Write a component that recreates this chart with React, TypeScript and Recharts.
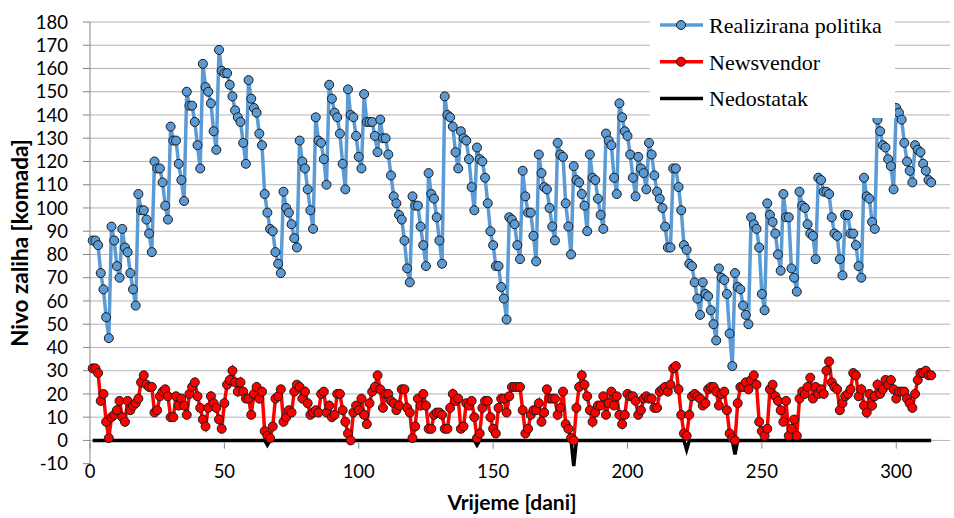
import { LineChart, Line, XAxis, YAxis, CartesianGrid, Legend } from 'recharts';

// dnevna razina zaliha (dan 1..313)
const realizirana = [
  86, 86, 84, 72, 65, 53, 44, 92, 86, 75, 70, 91, 83, 81, 72, 65, 58, 106, 99, 99,
  95, 89, 81, 120, 117, 117, 111, 101, 95, 135, 129, 129, 119, 112, 103, 150, 144, 144, 137,
  127, 117, 162, 152, 150, 145, 133, 125, 168, 159, 158, 158, 153, 148, 142, 139, 137, 128, 119,
  155, 147, 143, 141, 132, 127, 106, 98, 91, 90, 81, 76, 72, 107, 100, 98, 93, 87, 83,
  129, 120, 117, 108, 99, 91, 139, 129, 128, 121, 110, 153, 147, 141, 139, 132, 119, 108, 151, 140,
  139, 131, 122, 117, 149, 137, 137, 137, 131, 124, 138, 130, 130, 123, 114, 105, 102, 97, 95, 86,
  74, 68, 105, 101, 101, 92, 84, 75, 115, 106, 104, 96, 86, 76, 148, 140, 139, 135, 124, 117,
  133, 130, 129, 121, 109, 99, 126, 121, 120, 113, 102, 90, 84, 75, 75, 66, 61, 52,
  96, 95, 93, 84, 78, 116, 105, 98, 98, 88, 77, 123, 115, 109, 108, 100, 92, 86, 128, 123,
  122, 102, 92, 80, 118, 112, 111, 106, 101, 90, 123, 113, 112, 104, 97, 91, 132, 129, 127, 113,
  106, 145, 139, 133, 131, 123, 113, 105, 122, 117, 115, 108, 128, 123, 114, 107, 104, 100, 92, 83,
  83, 117, 117, 109, 99, 84, 82, 76, 75, 68, 61, 54, 68, 63, 62, 56, 50, 43,
  74, 70, 69, 63, 46, 32, 72, 66, 65, 58, 54, 50, 96, 93, 91, 83, 63, 56, 102, 97,
  94, 89, 80, 73, 106, 96, 96, 74, 70, 64, 107, 101, 100, 93, 89, 88, 78, 113, 112,
  107, 107, 106, 96, 89, 88, 78, 71, 97, 97, 89, 89, 84, 75, 70, 113, 105, 104, 94, 91,
  138, 133, 127, 126, 121, 118, 108, 143, 141, 138, 128, 120, 116, 111, 127, 125, 124, 119, 116, 112, 111
];

const newsvendor = [
  31, 31, 29, 17, 20, 8, 1, 10, 11, 13, 17, 10, 8, 17, 13, 15, 16, 18, 25, 28,
  24, 23, 23, 12, 13, 19, 21, 22, 19, 10, 10, 19, 15, 18, 15, 11, 20, 23, 25,
  19, 14, 9, 6, 14, 19, 16, 14, 9, 5, 16, 24, 26, 30, 25, 21, 25, 21, 18,
  18, 11, 20, 23, 18, 21, 4, 2, 1, 6, 18, 19, 22, 8, 10, 13, 12, 21, 24,
  23, 18, 21, 16, 11, 12, 13, 12, 20, 21, 12, 15, 10, 11, 20, 20, 13, 8, 3, 0,
  12, 15, 13, 18, 11, 7, 16, 21, 23, 28, 22, 14, 20, 20, 17, 16, 13, 15, 22, 22,
  14, 12, 1, 6, 18, 15, 20, 15, 5, 5, 11, 12, 12, 11, 5, 5, 14, 20, 17, 18,
  5, 6, 16, 15, 17, 10, 1, 3, 14, 17, 17, 10, 5, 3, 14, 18, 18, 12,
  19, 23, 23, 23, 23, 13, 3, 5, 11, 13, 13, 16, 8, 12, 22, 18, 18, 18, 11, 14,
  21, 7, 5, 1, 0, 14, 23, 28, 24, 19, 13, 8, 12, 15, 15, 19, 11, 16, 21, 15,
  19, 11, 7, 11, 20, 19, 19, 17, 11, 13, 18, 19, 18, 18, 14, 14, 21, 22, 23, 21,
  24, 31, 32, 22, 11, 3, 2, 11, 19, 20, 19, 18, 15, 16, 22, 23, 23, 21,
  15, 20, 21, 13, 3, 1, 0, 16, 23, 23, 25, 22, 26, 28, 24, 8, 4, 2, 5, 22,
  24, 19, 17, 13, 8, 17, 2, 5, 9, 2, 18, 21, 20, 23, 27, 18, 23, 20, 22,
  20, 30, 34, 25, 23, 22, 13, 16, 19, 20, 22, 29, 28, 19, 22, 15, 12, 20, 15, 19,
  24, 20, 22, 26, 24, 26, 22, 18, 21, 21, 21, 18, 16, 14, 20, 26, 29, 29, 30, 28, 28
];

// nedostatak: dani s manjkom i iznos (ostalo 0)
const nedostatakDani = [66, 97, 144, 180, 222, 240];
const nedostatakIznos = [-2, -1, -2, -11, -4, -6];

const xTicks = [0, 50, 100, 150, 200, 250, 300];
const yTicks = [-10, 0, 10, 20, 30, 40, 50, 60, 70, 80, 90, 100, 110, 120, 130, 140, 150, 160, 170, 180];
const gridValues = yTicks.filter((v) => v >= 0);

const legendOrder = ['realizirana', 'newsvendor', 'nedostatak'];

const data = realizirana.map((r, i) => {
  const dan = i + 1;
  const k = nedostatakDani.indexOf(dan);
  return {
    dan,
    realizirana: r,
    newsvendor: newsvendor[i],
    nedostatak: k >= 0 ? nedostatakIznos[k] : 0
  };
});

const W = 954;
const H = 518;
const TOP = 22;
const XAXIS_H = 52;
const Y_MIN = -10;
const Y_MAX = 180;
const PLOT_H = H - TOP - XAXIS_H;
const ZERO_OFFSET = (PLOT_H * (0 - Y_MIN)) / (Y_MAX - Y_MIN);

const FONT = 'Lato, "DejaVu Sans", sans-serif';
const AXIS_GRAY = '#868686';

const XTick = (props: any) => {
  const { x, y, payload } = props;
  return (
    <g>
      <line x1={x} x2={x} y1={y - ZERO_OFFSET} y2={y - ZERO_OFFSET + 6} stroke={AXIS_GRAY} strokeWidth={1} />
      <text x={x} y={y + 12} textAnchor="middle" fontFamily={FONT} fontSize={18.5} fill="#000">
        {payload.value}
      </text>
    </g>
  );
};

const XTitle = (props: any) => {
  const vb = props.viewBox || { x: 90, y: H - XAXIS_H, width: 860 };
  return (
    <text x={vb.x + vb.width / 2 - 8} y={vb.y + 44} textAnchor="middle" fontFamily={FONT} fontSize={21} fontWeight="bold" fill="#000">
      Vrijeme [dani]
    </text>
  );
};

const YTitle = (props: any) => {
  const vb = props.viewBox || { y: TOP, height: PLOT_H };
  const cx = 19;
  const cy = vb.y + vb.height / 2 - 1;
  return (
    <text
      x={cx}
      y={cy}
      transform={`rotate(-90, ${cx}, ${cy})`}
      textAnchor="middle"
      dominantBaseline="central"
      fontFamily={FONT}
      fontSize={22.5}
      fontWeight="bold"
      fill="#000"
    >
      Nivo zaliha [komada]
    </text>
  );
};

const LegendContent = (props: any) => {
  const payload = props.payload || [];
  const items = legendOrder.map((k) => payload.find((p: any) => p.dataKey === k)).filter(Boolean);
  return (
    <svg width={245} height={108}>
      {items.map((p: any, i: number) => {
        const cy = 15 + i * 36.7;
        return (
          <g key={p.dataKey}>
            <line x1={10} x2={53} y1={cy} y2={cy} stroke={p.color} strokeWidth={3.5} />
            {p.dataKey !== 'nedostatak' && (
              <circle cx={31} cy={cy} r={4.5} fill={p.color} stroke="#1a1a1a" strokeWidth={1} />
            )}
            <text x={59} y={cy + 8} fontFamily='"Liberation Serif", serif' fontSize={22} fill="#000">
              {p.value}
            </text>
          </g>
        );
      })}
    </svg>
  );
};

const App = () => {
  return (
    <div style={{ position: 'absolute', left: 0, top: 0, width: W, height: H, background: '#fff' }}>
      <LineChart width={W} height={H} data={data} margin={{ top: TOP, right: 4, bottom: 0, left: 0 }}>
        <CartesianGrid vertical={false} horizontalValues={gridValues} stroke="#b4b4b4" strokeWidth={1} />
        <XAxis
          type="number"
          dataKey="dan"
          domain={[0, 320]}
          ticks={xTicks}
          interval={0}
          axisLine={false}
          tickLine={false}
          tickSize={0}
          tickMargin={0}
          height={XAXIS_H}
          tick={<XTick />}
          label={XTitle}
        />
        <YAxis
          domain={[Y_MIN, Y_MAX]}
          ticks={yTicks}
          interval={0}
          width={90}
          axisLine={{ stroke: AXIS_GRAY }}
          tickLine={{ stroke: AXIS_GRAY }}
          tickSize={7}
          tickMargin={15}
          tick={{ fontFamily: FONT, fontSize: 18.5, fill: '#000' }}
          label={YTitle}
        />
        <Legend
          layout="vertical"
          align="center"
          verticalAlign="middle"
          content={LegendContent}
          wrapperStyle={{ left: 650, top: 10, width: 245, height: 108, background: '#fff' }}
        />
        <Line
          type="linear"
          dataKey="nedostatak"
          name="Nedostatak"
          stroke="#000000"
          strokeWidth={3.5}
          dot={false}
          isAnimationActive={false}
        />
        <Line
          type="linear"
          dataKey="realizirana"
          name="Realizirana politika"
          stroke="#5B9BD5"
          strokeWidth={3.5}
          dot={{ r: 4.5, fill: '#5B9BD5', stroke: '#1a1a1a', strokeWidth: 1 }}
          isAnimationActive={false}
        />
        <Line
          type="linear"
          dataKey="newsvendor"
          name="Newsvendor"
          stroke="#FF0000"
          strokeWidth={3.5}
          dot={{ r: 4.5, fill: '#FF0000', stroke: '#1a1a1a', strokeWidth: 1 }}
          isAnimationActive={false}
        />
      </LineChart>
    </div>
  );
};

export default App;
